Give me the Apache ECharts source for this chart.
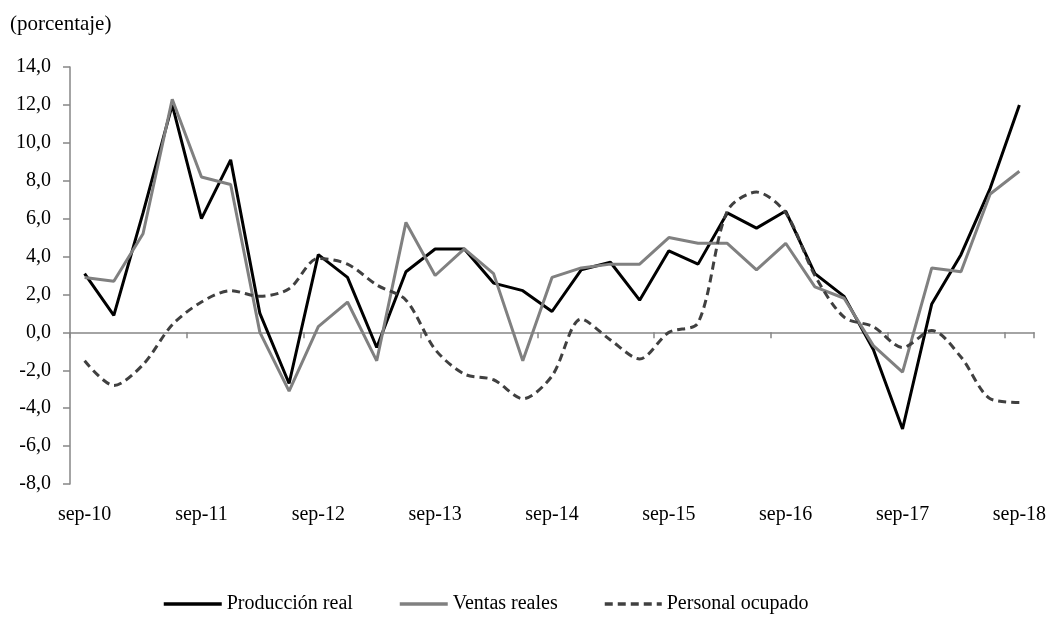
<!DOCTYPE html>
<html>
<head>
<meta charset="utf-8">
<script src="https://cdn.jsdelivr.net/npm/echarts@6/dist/echarts.min.js"></script>
<style>
  html, body { margin: 0; padding: 0; background: #fff; }
  #chart { width: 1055px; height: 623px; }
</style>
</head>
<body>
<div id="chart"></div>
<script>
// trimestres, sep-10 .. sep-18
const categories = [
  'sep-10', 'dic-10', 'mar-11', 'jun-11',
  'sep-11', 'dic-11', 'mar-12', 'jun-12',
  'sep-12', 'dic-12', 'mar-13', 'jun-13',
  'sep-13', 'dic-13', 'mar-14', 'jun-14',
  'sep-14', 'dic-14', 'mar-15', 'jun-15',
  'sep-15', 'dic-15', 'mar-16', 'jun-16',
  'sep-16', 'dic-16', 'mar-17', 'jun-17',
  'sep-17', 'dic-17', 'mar-18', 'jun-18',
  'sep-18'
];

const produccionReal = [
  3.1, 0.9, 6.3, 12.0,
  6.0, 9.1, 1.0, -2.7,
  4.1, 2.9, -0.8, 3.2,
  4.4, 4.4, 2.6, 2.2,
  1.1, 3.3, 3.7, 1.7,
  4.3, 3.6, 6.3, 5.5,
  6.4, 3.1, 1.9, -0.9,
  -5.1, 1.5, 4.1, 7.6,
  12.0
];

const ventasReales = [
  2.9, 2.7, 5.2, 12.3,
  8.2, 7.8, 0.0, -3.1,
  0.3, 1.6, -1.5, 5.8,
  3.0, 4.4, 3.1, -1.5,
  2.9, 3.4, 3.6, 3.6,
  5.0, 4.7, 4.7, 3.3,
  4.7, 2.4, 1.8, -0.7,
  -2.1, 3.4, 3.2, 7.3,
  8.5
];

const personalOcupado = [
  -1.5, -2.8, -1.7, 0.4,
  1.6, 2.2, 1.9, 2.3,
  3.9, 3.6, 2.5, 1.7,
  -0.9, -2.2, -2.5, -3.5,
  -2.3, 0.7, -0.4, -1.4,
  0.0, 0.5, 6.4, 7.4,
  6.3, 3.0, 0.8, 0.3,
  -0.8, 0.1, -1.3, -3.5,
  -3.7
];

const FONT = '"Liberation Serif", "Times New Roman", serif';
const AXIS_GRAY = '#868686';

const chart = echarts.init(document.getElementById('chart'), null, { renderer: 'canvas' });

const legendText = { fontFamily: FONT, fontSize: 20, color: '#000' };
// la leyenda de Excel no lleva marcador, solo la línea
const legendBase = {
  top: 589,
  itemHeight: 12,
  itemGap: 0,
  itemStyle: { opacity: 0 },
  lineStyle: { width: 3.5 },
  textStyle: legendText
};

chart.setOption({
  animation: false,
  backgroundColor: '#fff',
  textStyle: { fontFamily: FONT },
  title: {
    text: '(porcentaje)',
    left: 5,
    top: 9,
    textStyle: { fontFamily: FONT, fontSize: 21, fontWeight: 'normal', color: '#000' }
  },
  grid: { left: 70, right: 21, top: 67, bottom: 139 },
  legend: [
    { ...legendBase, data: ['Producción real'], left: 157, itemWidth: 58 },
    { ...legendBase, data: ['Ventas reales'], left: 393, itemWidth: 48 },
    { ...legendBase, data: ['Personal ocupado'], left: 598, itemWidth: 57 }
  ],
  xAxis: [
    {
      type: 'category',
      data: categories,
      boundaryGap: true,
      position: 'bottom',
      axisLine: { onZero: true, lineStyle: { color: AXIS_GRAY, width: 1.5 } },
      axisTick: { show: true, interval: 3, length: 6, lineStyle: { color: AXIS_GRAY, width: 1.5 } },
      axisLabel: { show: false },
      splitLine: { show: false }
    },
    {
      type: 'category',
      data: categories,
      boundaryGap: true,
      position: 'bottom',
      axisLine: { show: false, onZero: false },
      axisTick: { show: false },
      axisLabel: { interval: 3, margin: 21, fontFamily: FONT, fontSize: 20, color: '#000' },
      splitLine: { show: false }
    }
  ],
  yAxis: {
    type: 'value',
    min: -8,
    max: 14,
    interval: 2,
    axisLine: { show: true, lineStyle: { color: AXIS_GRAY, width: 1.5 } },
    axisTick: { show: true, length: 7, lineStyle: { color: AXIS_GRAY, width: 1.5 } },
    axisLabel: {
      margin: 19,
      fontFamily: FONT,
      fontSize: 20,
      color: '#000',
      formatter: v => v.toFixed(1).replace('.', ',')
    },
    splitLine: { show: false }
  },
  series: [
    {
      name: 'Producción real',
      type: 'line',
      data: produccionReal,
      symbol: 'none',
      lineStyle: { color: '#000', width: 3 },
      itemStyle: { color: '#000' }
    },
    {
      name: 'Ventas reales',
      type: 'line',
      data: ventasReales,
      symbol: 'none',
      lineStyle: { color: '#808080', width: 3 },
      itemStyle: { color: '#808080' }
    },
    {
      name: 'Personal ocupado',
      type: 'line',
      data: personalOcupado,
      symbol: 'none',
      smooth: 0.3,
      lineStyle: { color: '#404040', width: 3, type: [8, 5] },
      itemStyle: { color: '#404040' }
    }
  ]
});
</script>
</body>
</html>
